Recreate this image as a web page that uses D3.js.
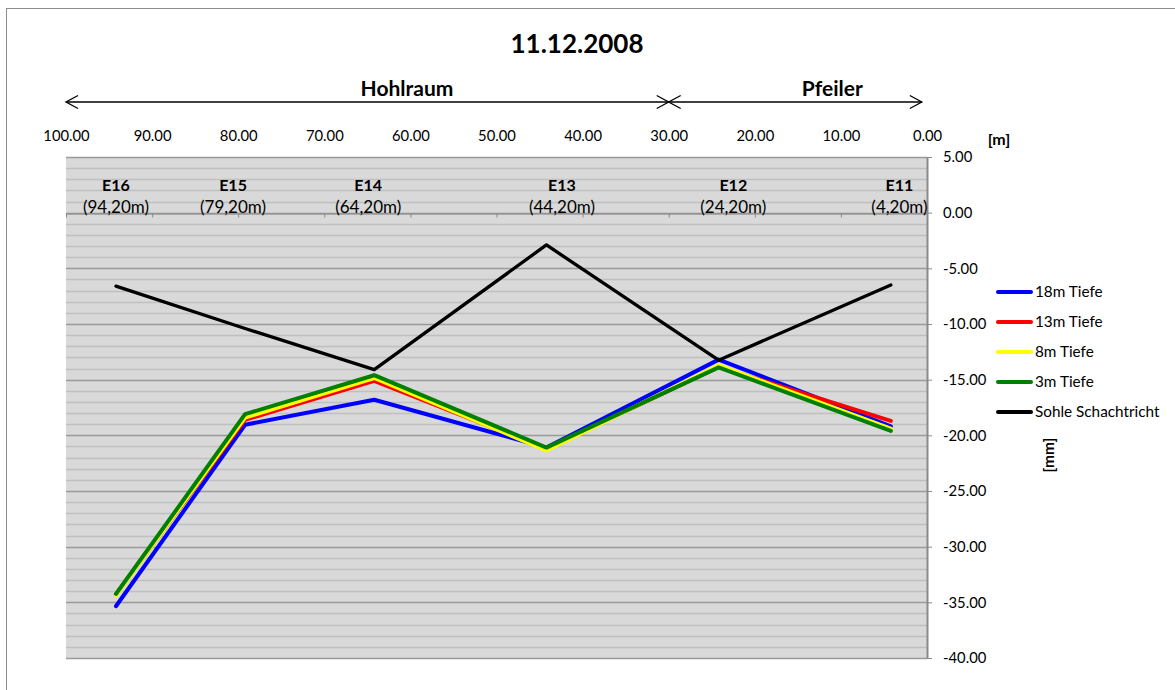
<!DOCTYPE html>
<html>
<head>
<meta charset="utf-8">
<script src="https://cdn.jsdelivr.net/npm/d3@7"></script>
<style>
  html, body { margin: 0; padding: 0; background: #fff; }
  svg { display: block; font-family: Lato, "Open Sans", sans-serif; }
</style>
</head>
<body>
<svg id="chart" width="1175" height="690"></svg>
<script>
// Measuring points (name, distance in metres)
const points = ["E16", "E15", "E14", "E13", "E12", "E11"];
const distances = [94.2, 79.2, 64.2, 44.2, 24.2, 4.2];
const distanceLabels = ["(94,20m)", "(79,20m)", "(64,20m)", "(44,20m)", "(24,20m)", "(4,20m)"];

// Displacement in mm per series
const seriesNames = ["18m Tiefe", "13m Tiefe", "8m Tiefe", "3m Tiefe", "Sohle Schachtricht"];
const seriesColors = ["#0000ff", "#ff0000", "#ffff00", "#008000", "#000000"];
const tiefe18 = [-35.35, -19.05, -16.8, -21.1, -13.2, -19.2];
const tiefe13 = [-34.3, -18.6, -15.1, -21.2, -13.85, -18.7];
const tiefe8 = [-34.4, -18.4, -14.85, -21.35, -13.7, -19.4];
const tiefe3 = [-34.25, -18.1, -14.6, -21.1, -13.9, -19.6];
const sohle = [-6.6, -10.4, -14.1, -2.9, -13.25, -6.5];
const seriesValues = [tiefe18, tiefe13, tiefe8, tiefe3, sohle];

// Axis ticks
const xTicks = [100, 90, 80, 70, 60, 50, 40, 30, 20, 10, 0];
const yTicks = [5, 0, -5, -10, -15, -20, -25, -30, -35, -40];

// Zones along the gallery
const zoneNames = ["Hohlraum", "Pfeiler"];
const zoneFrom = [100, 30];
const zoneTo = [30, 0.6];

const svg = d3.select("#chart");
const W = 1175, H = 690;

// Chart frame
svg.append("rect")
  .attr("x", 6.5).attr("y", 8.5)
  .attr("width", W + 20).attr("height", H + 20)
  .attr("fill", "#fff").attr("stroke", "#8c8c8c").attr("stroke-width", 1);

const plot = { left: 66, right: 927, top: 157, bottom: 658 };

const x = d3.scaleLinear().domain([100, 0]).range([plot.left, plot.right]);
const y = d3.scaleLinear().domain([5, -40]).range([plot.top, plot.bottom]);

const fmt = v => d3.format(".2f")(v).replace("\u2212", "-");

// Plot background
svg.append("rect")
  .attr("x", plot.left).attr("y", plot.top)
  .attr("width", plot.right - plot.left).attr("height", plot.bottom - plot.top)
  .attr("fill", "#d9d9d9");

// Minor gridlines every 1 mm, major every 5 mm
const minor = d3.range(-40, 5.5, 1).filter(v => v % 5 !== 0);
svg.append("g").selectAll("line").data(minor).join("line")
  .attr("x1", plot.left).attr("x2", plot.right)
  .attr("y1", d => Math.round(y(d)) + 0.5).attr("y2", d => Math.round(y(d)) + 0.5)
  .attr("stroke", "#c0c0c0").attr("stroke-width", 1.4);
svg.append("g").selectAll("line").data(yTicks).join("line")
  .attr("x1", plot.left).attr("x2", plot.right)
  .attr("y1", d => Math.round(y(d)) + 0.5).attr("y2", d => Math.round(y(d)) + 0.5)
  .attr("stroke", "#9a9a9a").attr("stroke-width", 1.4);

// Horizontal axis line at 0 with ticks every 10 m
const xAxisLine = svg.append("g")
  .attr("transform", `translate(0,${Math.round(y(0)) + 0.5})`)
  .call(d3.axisBottom(x).tickValues(xTicks).tickSize(4).tickSizeOuter(0).tickFormat(""));
xAxisLine.select(".domain").attr("stroke", "#8a8a8a").attr("stroke-width", 1.2);
xAxisLine.selectAll(".tick line").attr("stroke", "#8a8a8a");

// Distance labels along the top
const xLabels = svg.append("g")
  .attr("transform", "translate(0,141)")
  .call(d3.axisTop(x).tickValues(xTicks).tickSize(0).tickPadding(0).tickFormat(fmt));
xLabels.select(".domain").remove();
xLabels.selectAll("text")
  .attr("font-family", "Lato, sans-serif").attr("font-size", 14.8).attr("fill", "#000");

// Right value axis
const yAxis = svg.append("g")
  .attr("transform", `translate(${plot.right},0)`)
  .call(d3.axisRight(y).tickValues(yTicks).tickSize(5).tickSizeOuter(0).tickPadding(11).tickFormat(fmt));
yAxis.select(".domain").attr("stroke", "#8a8a8a").attr("stroke-width", 2);
yAxis.selectAll(".tick line").attr("stroke", "#8a8a8a");
yAxis.selectAll("text")
  .attr("font-family", "Lato, sans-serif").attr("font-size", 14.8).attr("fill", "#000");

// Series lines
const line = d3.line().x((d, i) => x(distances[i])).y(d => y(d));
svg.append("g").selectAll("path").data(seriesValues).join("path")
  .attr("d", d => line(d))
  .attr("fill", "none")
  .attr("stroke", (d, i) => seriesColors[i])
  .attr("stroke-width", (d, i) => i === 4 ? 3.3 : 4)
  .attr("stroke-linejoin", "round")
  .attr("stroke-linecap", "round");

// Point labels
const labelAt = [94.2, 80.6, 64.9, 42.4, 22.5, 3.2];
const ptLabels = svg.append("g").selectAll("g").data(points).join("g")
  .attr("transform", (d, i) => `translate(${x(labelAt[i])},0)`);
ptLabels.append("text")
  .attr("y", 191).attr("text-anchor", "middle")
  .attr("font-size", 16).attr("font-weight", "bold")
  .text(d => d);
ptLabels.append("text")
  .attr("y", 213).attr("text-anchor", "middle")
  .attr("font-size", 17)
  .text((d, i) => distanceLabels[i]);

// Title
svg.append("text")
  .attr("x", 577).attr("y", 53).attr("text-anchor", "middle")
  .attr("font-size", 26).attr("font-weight", "bold")
  .text("11.12.2008");

// Zone arrows
const arrowY = 102;
const zoneLabelAt = [60.4, 11.0];
zoneNames.forEach((name, i) => {
  const x0 = x(zoneFrom[i]), x1 = x(zoneTo[i]);
  const g = svg.append("g").attr("fill", "none").attr("stroke", "#000").attr("stroke-width", 1.3);
  g.append("line").attr("x1", x0).attr("x2", x1).attr("y1", arrowY).attr("y2", arrowY);
  g.append("path").attr("d", `M${x0 + 12},${arrowY - 6.5}L${x0},${arrowY}L${x0 + 12},${arrowY + 6.5}`);
  g.append("path").attr("d", `M${x1 - 12},${arrowY - 6.5}L${x1},${arrowY}L${x1 - 12},${arrowY + 6.5}`);
  svg.append("text")
    .attr("x", x(zoneLabelAt[i])).attr("y", 96).attr("text-anchor", "middle")
    .attr("font-size", 21).attr("font-weight", "bold")
    .text(name);
});

// Axis unit labels
svg.append("text")
  .attr("x", 999).attr("y", 145).attr("text-anchor", "middle")
  .attr("font-size", 16).attr("font-weight", "bold").text("[m]");
svg.append("text")
  .attr("transform", "translate(1054,455) rotate(-90)")
  .attr("text-anchor", "middle")
  .attr("font-size", 15.5).attr("font-weight", "bold").text("[mm]");

// Legend
const legend = svg.append("g").selectAll("g").data(seriesNames).join("g")
  .attr("transform", (d, i) => `translate(998,${292 + i * 30})`);
legend.append("line")
  .attr("x1", 0).attr("x2", 33).attr("y1", 0).attr("y2", 0)
  .attr("stroke", (d, i) => seriesColors[i]).attr("stroke-width", 4)
  .attr("stroke-linecap", "round");
legend.append("text")
  .attr("x", 37).attr("dy", "0.35em")
  .attr("font-size", 15.3).text(d => d);
</script>
</body>
</html>
